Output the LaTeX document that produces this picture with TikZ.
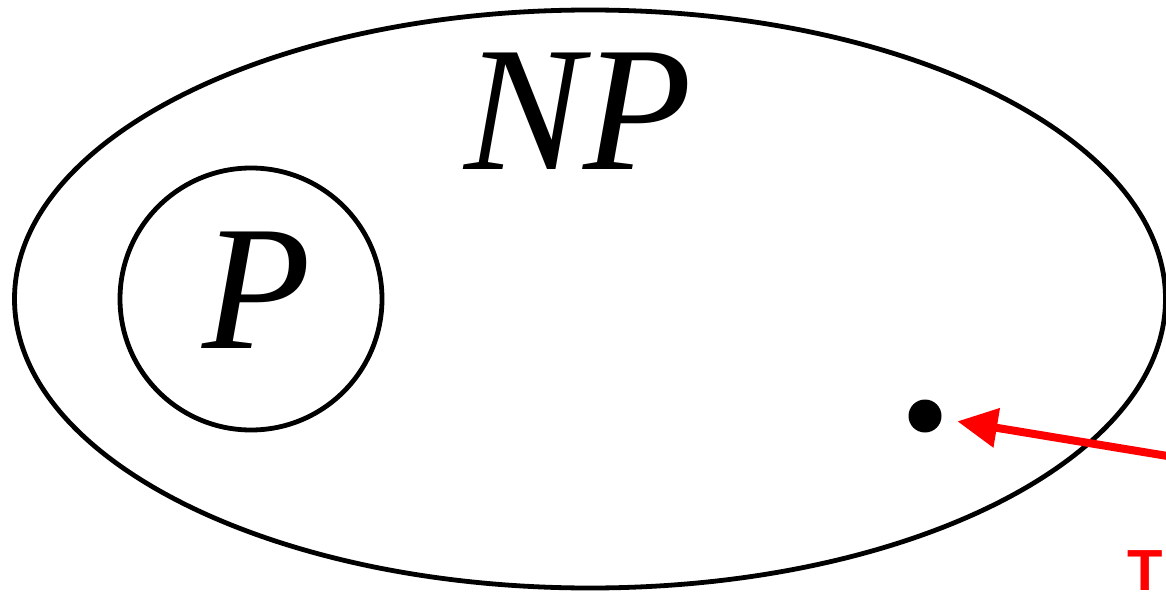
\documentclass[tikz,border=0pt]{standalone}
\usepackage{fontspec}
\setmainfont{Liberation Serif}
\newfontfamily\labelsans{Liberation Sans}
\usetikzlibrary{shapes.geometric,arrows.meta}
\tikzset{
  setline/.style={draw=black,line width=4.8pt,inner sep=0pt,outer sep=0pt},
  setlabel/.style={anchor=base,inner sep=0pt,font=\fontsize{178}{178}\selectfont\itshape},
  redarrow/.style={draw=red,line width=8pt,-{Triangle[length=40pt,width=38pt]}},
}
\begin{document}
\begin{tikzpicture}[x=1pt,y=-1pt]
\useasboundingbox (0,0) rectangle (1166,596);
\clip (0,0) rectangle (1166,596);
\node[setline,ellipse,minimum width=1151pt,minimum height=578pt] (np) at (590,299) {};
\node[setline,circle,minimum size=262pt] (p) at (251,299) {};
\node[setlabel] (nplabel) at (578,170) {NP};
\node[setlabel] (plabel) at (257,348) {P};
\node[circle,fill=black,minimum size=33pt,inner sep=0pt] (dot) at (925,416) {};
\coordinate (start) at (1210,463);
\draw[redarrow,shorten >=16pt] (start) -- (dot);
\node[anchor=base west,inner sep=0pt,text=red,font=\labelsans\bfseries\fontsize{58}{58}\selectfont] (note) at (1127,590) {Th};
\end{tikzpicture}
\end{document}
